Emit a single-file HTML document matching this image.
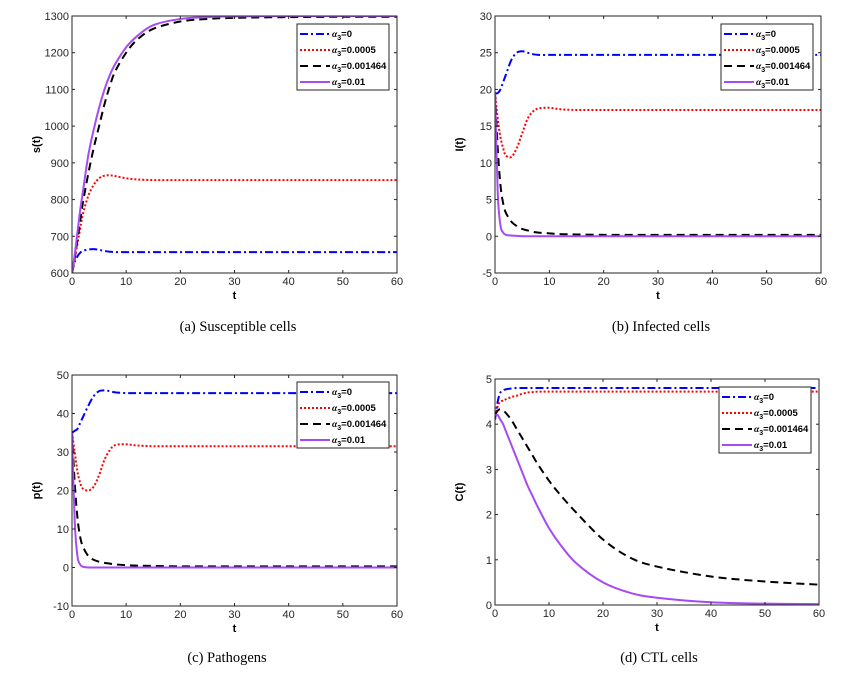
<!DOCTYPE html>
<html><head><meta charset="utf-8"><style>
body{margin:0;background:#fff;width:858px;height:682px;overflow:hidden}
svg{font-family:"Liberation Sans",sans-serif}
.cap{font-family:"Liberation Serif",serif;font-size:14.5px}
</style></head><body>
<svg id="s" width="858" height="682"></svg>
<script>
const T=[0,0.5,1,1.5,2,3,4,5,6,7,8,10,12,15,20,25,30,40,50,60];
const seriesLabels=["0","0.0005","0.001464","0.01"];
const sA0=[600,630,645,655,660,664,665,663,660,658,657,657,657,657,657,657,657,657,657,657];
const sA1=[600,640,680,720,760,810,840,858,865,866,864,858,855,853,853,853,853,853,853,853];
const sA2=[600,640,690,740,790,870,940,1000,1060,1110,1150,1200,1235,1265,1285,1292,1295,1297,1298,1298];
const sA3=[600,650,710,770,820,920,990,1050,1100,1140,1170,1215,1245,1275,1292,1297,1299,1300,1300,1300];
const iA0=[19.5,19.5,20,21,22,24,25,25.2,25,24.8,24.7,24.7,24.7,24.7,24.7,24.7,24.7,24.7,24.7,24.7];
const iA1=[19.5,16,13.5,12,11,10.8,12,14,16,17,17.4,17.5,17.3,17.2,17.2,17.2,17.2,17.2,17.2,17.2];
const iA2=[19.5,12,7,4.5,3.2,2,1.4,1,0.8,0.6,0.5,0.4,0.3,0.25,0.2,0.2,0.2,0.2,0.2,0.2];
const iA3=[19.5,6,1.5,0.5,0.2,0.1,0.05,0,0,0,0,0,0,0,0,0,0,0,0,0];
const pA0=[35,35.5,36,37.5,39,42,44.5,45.8,46,45.8,45.5,45.3,45.3,45.3,45.3,45.3,45.3,45.3,45.3,45.3];
const pA1=[35,30,25,22,20.5,20,21,24,28,30.5,31.8,32,31.7,31.5,31.5,31.5,31.5,31.5,31.5,31.5];
const pA2=[35,22,13,8,5.5,3,2,1.5,1.2,1,0.8,0.6,0.5,0.4,0.3,0.3,0.3,0.3,0.3,0.3];
const pA3=[35,12,3,0.8,0.2,0,0,0,0,0,0,0,0,0,0,0,0,0,0,0];
const cA0=[4.1,4.5,4.7,4.75,4.77,4.79,4.8,4.8,4.8,4.8,4.8,4.8,4.8,4.8,4.8,4.8,4.8,4.8,4.8,4.8];
const cA1=[4.1,4.4,4.5,4.52,4.55,4.6,4.63,4.67,4.7,4.71,4.72,4.72,4.72,4.72,4.72,4.72,4.72,4.72,4.72,4.72];
const cA2=[4.2,4.3,4.33,4.3,4.25,4.1,3.9,3.7,3.5,3.3,3.1,2.75,2.45,2.05,1.45,1.05,0.85,0.63,0.52,0.45];
const cA3=[4.2,4.2,4.1,4.0,3.85,3.55,3.25,2.95,2.65,2.4,2.15,1.7,1.35,0.93,0.5,0.27,0.16,0.06,0.03,0.02];
const xTicks=[0,10,20,30,40,50,60];
const ticksA=[600,700,800,900,1000,1100,1200,1300];
const ticksB=[-5,0,5,10,15,20,25,30];
const ticksC=[-10,0,10,20,30,40,50];
const ticksD=[0,1,2,3,4,5];

const NS="http://www.w3.org/2000/svg",svg=document.getElementById('s');
const styles=[{c:"#0000ff",d:"8 3 2 3"},{c:"#ff0000",d:"2 2"},{c:"#000",d:"8 5"},{c:"#a64bf4",d:""}];
function mk(t,a,p){const e=document.createElementNS(NS,t);for(const k in a)e.setAttribute(k,a[k]);(p||svg).appendChild(e);return e;}
function panel(id,L,R,Tp,B,ticks,series,ylab,leg,cap){
  const g=mk('g',{});
  
  
  const y0=ticks[0],y1=ticks[ticks.length-1];
  const X=v=>L+(v-0)/60*(R-L), Y=v=>B-(v-y0)/(y1-y0)*(B-Tp);
  const clip=mk('clipPath',{id:'c'+id},g);mk('rect',{x:L,y:Tp,width:R-L,height:B-Tp},clip);
  series.forEach((s,k)=>{
    let d='';const pts=T.map((t,i)=>[X(t),Y(s[i])]);
    d='M'+pts[0][0]+','+pts[0][1];
    for(let i=0;i<pts.length-1;i++){const p0=pts[Math.max(0,i-1)],p1=pts[i],p2=pts[i+1],p3=pts[Math.min(pts.length-1,i+2)];
      d+=' C'+(p1[0]+(p2[0]-p0[0])/6)+','+(p1[1]+(p2[1]-p0[1])/6)+' '+(p2[0]-(p3[0]-p1[0])/6)+','+(p2[1]-(p3[1]-p1[1])/6)+' '+p2[0]+','+p2[1];}
    const e=mk('path',{d:d,fill:'none',stroke:styles[k].c,'stroke-width':2,'stroke-dasharray':styles[k].d,'clip-path':'url(#c'+id+')'},g);
    
    
  });
  const fr=mk('rect',{x:L,y:Tp,width:R-L,height:B-Tp,fill:'none',stroke:'#262626','stroke-width':1},g);
  
  
  xTicks.forEach(v=>{const x=X(v);mk('line',{x1:x,x2:x,y1:B,y2:B-3,stroke:'#262626'},g);mk('line',{x1:x,x2:x,y1:Tp,y2:Tp+3,stroke:'#262626'},g);
    const t=mk('text',{x:x,y:B+12,'font-size':11,'text-anchor':'middle',fill:'#262626'},g);t.textContent=v;
    
    });
  ticks.forEach(v=>{const y=Y(v);mk('line',{x1:L,x2:L+3,y1:y,y2:y,stroke:'#262626'},g);mk('line',{x1:R,x2:R-3,y1:y,y2:y,stroke:'#262626'},g);
    const t=mk('text',{x:L-3,y:y+4,'font-size':11,'text-anchor':'end',fill:'#262626'},g);t.textContent=v;
    
    });
  const xl=mk('text',{x:(L+R)/2,y:B+26,'font-size':11,'font-weight':'bold','text-anchor':'middle'},g);xl.textContent='t';
  
  
  const yx=L-32,ym=(Tp+B)/2;
  const yl=mk('text',{x:yx,y:ym,'font-size':11,'font-weight':'bold','text-anchor':'middle',transform:'rotate(-90 '+yx+' '+ym+')'},g);yl.textContent=ylab;
  
  
  const lg=mk('g',{},g);
  
  
  mk('rect',{x:leg[0],y:leg[1],width:92,height:66,fill:'#fff',stroke:'#262626'},lg);
  seriesLabels.forEach((s,k)=>{const yy=leg[1]+10+k*16;
    mk('line',{x1:leg[0]+3,x2:leg[0]+33,y1:yy,y2:yy,stroke:styles[k].c,'stroke-width':2,'stroke-dasharray':styles[k].d},lg);
    const t=mk('text',{x:leg[0]+35,y:yy+3,'font-size':9.5,'font-weight':'bold'},lg);
    t.innerHTML='<tspan font-style="italic" font-family="Liberation Serif">α</tspan><tspan font-size="7" dy="3">3</tspan><tspan dy="-3">='+s+'</tspan>';
    
    });
  const c=mk('text',{x:cap[0],y:cap[1],'text-anchor':'middle',class:'cap'},g);c.textContent=cap[2];
  
  
}
panel('a',72,397,16,273,ticksA,[sA0,sA1,sA2,sA3],'s(t)',[297,24],[238,331,'(a)  Susceptible cells']);
panel('b',495,821,16,273,ticksB,[iA0,iA1,iA2,iA3],'I(t)',[721,24],[661,331,'(b)  Infected cells']);
panel('c',72,397,375,606,ticksC,[pA0,pA1,pA2,pA3],'p(t)',[297,382],[227,662,'(c)  Pathogens']);
panel('d',495,819,379,605,ticksD,[cA0,cA1,cA2,cA3],'C(t)',[719,387],[659,662,'(d)  CTL cells']);
</script></body></html>
